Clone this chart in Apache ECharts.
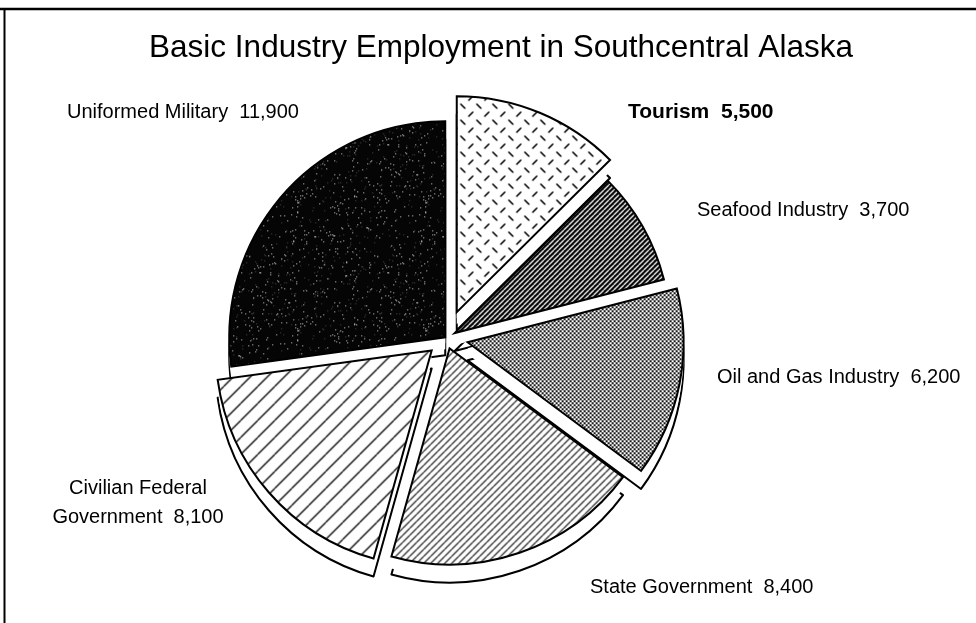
<!DOCTYPE html>
<html>
<head>
<meta charset="utf-8">
<title>Basic Industry Employment in Southcentral Alaska</title>
<script src="https://cdn.jsdelivr.net/npm/echarts@6/dist/echarts.min.js"></script>
<style>
  html, body { margin: 0; padding: 0; background: #fff; }
  #chart { width: 976px; height: 623px; }
</style>
</head>
<body>
<div id="chart"></div>
<script>
// ---- data ----
const chartTitle = 'Basic Industry Employment in Southcentral Alaska';
const categories = [
  'Tourism',
  'Seafood Industry',
  'Oil and Gas Industry',
  'State Government',
  'Civilian Federal\nGovernment',
  'Uniformed Military'
];
const employment = [5500, 3700, 6200, 8400, 8100, 11900];

// ---- layout / styling ----
const pieCenter = [446, 338];
const pieRadius = 216;
const pieDepth = 18;                       // height of the extruded rim
const explode = [28, 10, 22, 11, 19, 1];   // pull-out distance of each wedge
const labelAnchors = [                     // [x, y, align]
  [628, 112, 'left'],
  [697, 210, 'left'],
  [717, 377, 'left'],
  [590, 587, 'left'],
  [138, 503, 'center'],
  [67, 112, 'left']
];
const FONT = '"Liberation Sans", Arial, Helvetica, sans-serif';

// ---- hatch / screen fills ----
function tile(w, h, draw) {
  const c = document.createElement('canvas');
  c.width = w; c.height = h;
  const g = c.getContext('2d');
  draw(g, w, h);
  return { image: c, repeat: 'repeat' };
}
function diagonal(g, w, h) {          // seamless "/" lines across a square tile
  g.beginPath();
  for (let k = -1; k <= 1; k++) {
    g.moveTo(k * w, h);
    g.lineTo(k * w + w, 0);
  }
  g.stroke();
}

const fills = [
  // tourism: scattered short dashes
  tile(16, 16, (g, w, h) => {
    g.fillStyle = '#fff'; g.fillRect(0, 0, w, h);
    g.strokeStyle = '#000'; g.lineWidth = 1.6; g.lineCap = 'round';
    g.beginPath();
    g.moveTo(2, 2); g.lineTo(6, 6);
    g.moveTo(10, 14); g.lineTo(14, 10);
    g.stroke();
  }),
  // seafood: dark with fine light diagonals
  tile(5, 5, (g, w, h) => {
    g.fillStyle = '#000'; g.fillRect(0, 0, w, h);
    g.strokeStyle = '#fff'; g.lineWidth = 1.3;
    diagonal(g, w, h);
  }),
  // oil and gas: fine dot screen
  tile(4, 4, (g, w, h) => {
    g.fillStyle = '#fff'; g.fillRect(0, 0, w, h);
    g.fillStyle = '#1a1a1a';
    g.fillRect(0, 0, 2, 2); g.fillRect(2, 2, 2, 2);
  }),
  // state government: dense diagonals
  tile(7, 7, (g, w, h) => {
    g.fillStyle = '#fff'; g.fillRect(0, 0, w, h);
    g.strokeStyle = '#000'; g.lineWidth = 1.1;
    diagonal(g, w, h);
  }),
  // civilian federal: wide diagonals
  tile(17, 17, (g, w, h) => {
    g.fillStyle = '#fff'; g.fillRect(0, 0, w, h);
    g.strokeStyle = '#000'; g.lineWidth = 1.3;
    diagonal(g, w, h);
  }),
  // uniformed military: near-black with sparse grain
  tile(128, 128, (g, w, h) => {
    g.fillStyle = '#050505'; g.fillRect(0, 0, w, h);
    const grain = (x, y) => {
      const s = Math.sin(x * 12.9898 + y * 78.233) * 43758.5453;
      return s - Math.floor(s);
    };
    for (let y = 0; y < h; y++) {
      for (let x = 0; x < w; x++) {
        const v = grain(x, y);
        if (v > 0.982) { g.fillStyle = '#d8d8d8'; g.fillRect(x, y, 1, 1); }
        else if (v > 0.97) { g.fillStyle = '#4a4a4a'; g.fillRect(x, y, 1, 1); }
      }
    }
  })
];

// ---- series ----
const hiddenStyle = { color: 'rgba(0,0,0,0)', borderWidth: 0 };

function wedgeSeries(i, centerY, style) {
  const data = categories.map((name, j) => (j === i
    ? { name, value: employment[j], selected: true, itemStyle: style }
    : { name, value: employment[j], itemStyle: hiddenStyle }));
  return {
    type: 'pie',
    center: [pieCenter[0], centerY],
    radius: [0, pieRadius],
    startAngle: 90,
    clockwise: true,
    selectedMode: 'multiple',
    selectedOffset: explode[i],
    silent: true,
    animation: false,
    emphasis: { disabled: true },
    select: { itemStyle: style },
    label: { show: false },
    labelLine: { show: false },
    data
  };
}

const series = [];
// extruded rim: deepest outline first, then plain white fills to close the sides
[pieDepth, pieDepth * 2 / 3, pieDepth / 3].forEach((d, layer) => {
  categories.forEach((_, i) => {
    const style = layer === 0
      ? { color: '#fff', borderColor: '#000', borderWidth: 2 }
      : { color: '#fff', borderWidth: 0 };
    series.push(wedgeSeries(i, pieCenter[1] + d, style));
  });
});
// top faces
categories.forEach((_, i) => {
  series.push(wedgeSeries(i, pieCenter[1],
    { color: fills[i], borderColor: '#000', borderWidth: 2, borderJoin: 'miter' }));
});

// wedge captions: name and value
const captions = categories.map((name, i) => {
  const a = labelAnchors[i];
  const isTourism = i === 0;
  return {
    type: 'text',
    x: a[0],
    y: a[1],
    silent: true,
    style: {
      text: name + '  ' + employment[i].toLocaleString('en-US'),
      fontFamily: FONT,
      fontSize: isTourism ? 21 : 20,
      fontWeight: isTourism ? 'bold' : 'normal',
      fill: '#000',
      lineHeight: 29,
      align: a[2],
      verticalAlign: 'middle'
    }
  };
});

const chart = echarts.init(document.getElementById('chart'), null, { renderer: 'canvas' });
chart.setOption({
  backgroundColor: '#fff',
  animation: false,
  title: {
    text: chartTitle,
    left: 496,
    top: 27,
    textAlign: 'center',
    textStyle: { fontFamily: FONT, fontSize: 31.5, fontWeight: 'normal', color: '#000' }
  },
  graphic: [
    { type: 'line', silent: true, shape: { x1: 0, y1: 9, x2: 976, y2: 9 }, style: { stroke: '#000', lineWidth: 2.5 } },
    { type: 'line', silent: true, shape: { x1: 4.5, y1: 9, x2: 4.5, y2: 623 }, style: { stroke: '#000', lineWidth: 2 } }
  ].concat(captions),
  series
});
</script>
</body>
</html>
